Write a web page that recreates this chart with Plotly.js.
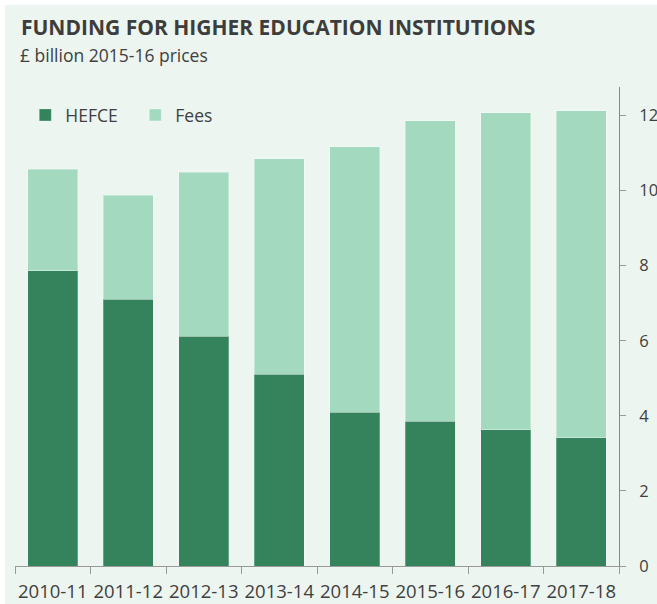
<!DOCTYPE html>
<html>
<head>
<meta charset="utf-8">
<script src="https://cdn.plot.ly/plotly-3.0.1.min.js"></script>
<style>
html, body { margin: 0; padding: 0; background: #ffffff; }
#chart { position: absolute; left: 5px; top: 5px; width: 652px; height: 599px; }
</style>
</head>
<body>
<div id="chart"></div>
<script>
const years = ["2010-11", "2011-12", "2012-13", "2013-14", "2014-15", "2015-16", "2016-17", "2017-18"];
const hefce = [7.87, 7.11, 6.12, 5.11, 4.10, 3.85, 3.63, 3.42];
const fees = [2.70, 2.77, 4.37, 5.74, 7.07, 8.01, 8.44, 8.71];
const yTicks = [0, 2, 4, 6, 8, 10, 12];

const textColor = "#404040";
const fontFam = "Open Sans, sans-serif";

const traces = [
  {
    type: "bar", name: "HEFCE", x: years, y: hefce,
    marker: { color: "#35835c", line: { color: "rgba(255,255,255,0.25)", width: 1 } },
    hoverinfo: "x+y+name"
  },
  {
    type: "bar", name: "Fees", x: years, y: fees,
    marker: { color: "#a3d9bf", line: { color: "rgba(255,255,255,0.35)", width: 1 } },
    hoverinfo: "x+y+name"
  }
];

const layout = {
  width: 652, height: 599,
  paper_bgcolor: "#ecf5f0",
  plot_bgcolor: "#ecf5f0",
  barmode: "stack",
  bargap: 0.34,
  margin: { l: 10, r: 38, t: 82, b: 38 },
  font: { family: fontFam, color: textColor, size: 16 },
  title: {
    text: "<b>FUNDING FOR HIGHER EDUCATION INSTITUTIONS</b>",
    x: 0.0245, xref: "container", xanchor: "left",
    y: 0.962, yref: "container", yanchor: "middle",
    font: { family: fontFam, size: 21, color: "#3d3d3d" }
  },
  annotations: [
    {
      text: "£ billion 2015-16 prices", xref: "paper", yref: "paper",
      x: 0.005, y: 1.0668, xanchor: "left", yanchor: "middle",
      showarrow: false, font: { family: fontFam, size: 17.5, color: textColor }
    }
  ],
  showlegend: true,
  legend: {
    orientation: "h", x: 0.017, y: 0.9415, xanchor: "left", yanchor: "middle",
    bgcolor: "rgba(0,0,0,0)", font: { size: 17.5, color: textColor },
    entrywidth: 65, entrywidthmode: "pixels", traceorder: "normal"
  },
  xaxis: {
    type: "category", range: [-0.5, 7.5],
    showline: true, linecolor: "#999999", linewidth: 1,
    ticks: "outside", tickson: "boundaries", ticklen: 7, tickcolor: "#999999",
    ticklabelstandoff: 9, tickangle: 0,
    showgrid: false, zeroline: false, fixedrange: true,
    tickfont: { size: 18.5, color: textColor }
  },
  yaxis: {
    side: "right", range: [0, 12.76], tickvals: yTicks,
    showline: true, linecolor: "#888888", linewidth: 1,
    ticks: "outside", ticklen: 6, tickcolor: "#999999",
    ticklabelstandoff: 10,
    showgrid: false, zeroline: false, fixedrange: true,
    tickfont: { size: 16.5, color: textColor }
  }
};

Plotly.newPlot("chart", traces, layout, { displayModeBar: false, responsive: false });
</script>
</body>
</html>
